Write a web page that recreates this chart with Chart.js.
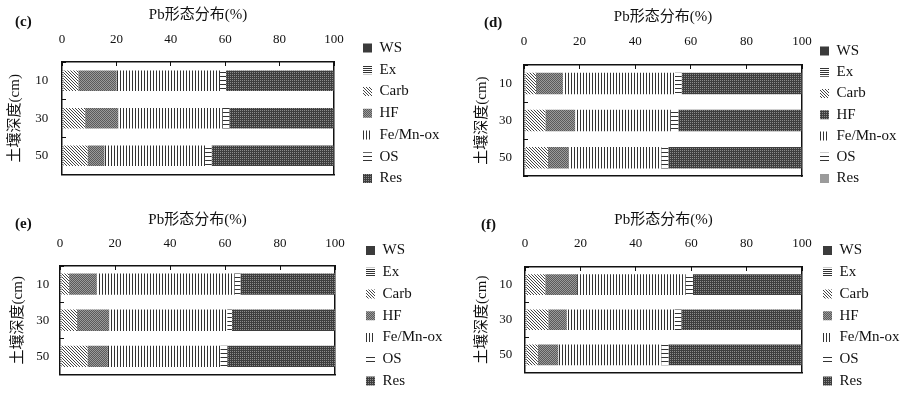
<!DOCTYPE html>
<html>
<head>
<meta charset="utf-8">
<script src="https://cdn.jsdelivr.net/npm/chart.js@4.4.1/dist/chart.umd.min.js"></script>
<style>
  html, body { margin: 0; background: #fff; }
  #wrap { position: relative; width: 908px; height: 394px; overflow: hidden; }
  #wrap canvas { position: absolute; }
</style>
</head>
<body>
<div id="wrap">
  <canvas id="pc" width="454" height="200" style="left:0;top:0"></canvas>
  <canvas id="pd" width="454" height="200" style="left:454px;top:0"></canvas>
  <canvas id="pe" width="454" height="200" style="left:0;top:197px"></canvas>
  <canvas id="pf" width="454" height="200" style="left:454px;top:197px"></canvas>
</div>
<script>
const panels = ['(c)', '(d)', '(e)', '(f)']
const depths = ['10', '30', '50']
const fractions = ['WS', 'Ex', 'Carb', 'HF', 'Fe/Mn-ox', 'OS', 'Res']
const axisTitle = 'Pb形态分布(%)'
const depthTitle = '土壤深度(cm)'

// one row per panel (c, d, e, f), one value per depth 10 / 30 / 50 cm, in %
const ws = [[0.2, 0.2, 0.2], [0.2, 0.2, 0.2], [0.2, 0.2, 0.2], [0.2, 0.2, 0.2]]
const ex = [[0.3, 0.3, 0.3], [0.3, 0.3, 0.3], [0.3, 0.3, 0.3], [0.3, 0.3, 0.3]]
const carb = [[5.5, 8.0, 8.9], [3.8, 7.2, 8.1], [2.8, 5.7, 9.5], [6.8, 7.9, 4.1]]
const hf = [[14.1, 12.2, 6.2], [9.7, 10.7, 7.4], [10.0, 11.7, 7.4], [11.5, 6.7, 7.4]]
const feMn = [[38.0, 38.4, 37.0], [40.3, 34.4, 33.4], [50.2, 42.9, 40.9], [39.2, 38.9, 37.2]]
const os = [[2.2, 2.4, 2.4], [2.4, 2.7, 2.5], [2.1, 1.7, 2.5], [2.6, 2.4, 2.6]]
const res = [[39.7, 38.5, 45.0], [43.3, 44.5, 48.1], [34.4, 37.5, 39.2], [39.4, 43.6, 48.2]]

const ink = '#111'
const serif = "'Liberation Serif', 'Noto Sans CJK SC', serif"
const W = 454
const H = 200
const legFont = 15

// layout of each panel inside its canvas (px); legend values kept to quarter pixels
const frames = [
  { id: 'pc', tagX: 15, tagY: 21.7, titleY: 15, tickY: 40, L: 62, T: 62, R: 334, B: 190, yLabRight: 48.3, yTitleX: 15, legX: 363, legBottom: 192.75, legPad: 6.75, bar: 0.55 },
  { id: 'pd', tagX: 30, tagY: 23.3, titleY: 16.7, tickY: 41.7, L: 70, T: 65, R: 348, B: 188, yLabRight: 58, yTitleX: 28, legX: 366, legBottom: 192.25, legPad: 6.25, bar: 0.58 },
  { id: 'pe', tagX: 15, tagY: 26.7, titleY: 23.3, tickY: 46.7, L: 60, T: 69, R: 335, B: 193, yLabRight: 49.3, yTitleX: 18, legX: 366, legBottom: 198.25, legPad: 6.75, bar: 0.59 },
  { id: 'pf', tagX: 27, tagY: 28.3, titleY: 23.3, tickY: 46.7, L: 71, T: 70, R: 348, B: 193, yLabRight: 58.3, yTitleX: 28, legX: 369, legBottom: 198.25, legPad: 6.75, bar: 0.59 }
]

function tile(ctx, w, h, bg, fg, cells) {
  const c = document.createElement('canvas')
  c.width = w
  c.height = h
  const g = c.getContext('2d')
  g.fillStyle = bg
  g.fillRect(0, 0, w, h)
  g.fillStyle = fg
  cells.forEach(([x, y]) => g.fillRect(x, y, 1, 1))
  return ctx.createPattern(c, 'repeat')
}

function makeFills(ctx) {
  return [
    '#3b3b3b',
    tile(ctx, 2, 2, '#fff', '#333', [[0, 0], [1, 0]]),
    tile(ctx, 3, 3, '#fff', '#444', [[0, 0], [1, 1], [2, 2]]),
    tile(ctx, 2, 2, '#9a9a9a', '#5a5a5a', [[0, 0], [1, 1]]),
    tile(ctx, 3, 1, '#fff', '#333', [[0, 0]]),
    tile(ctx, 1, 4, '#fff', '#333', [[0, 0]]),
    tile(ctx, 2, 2, '#3e3e3e', '#8c8c8c', [[0, 0]])
  ]
}

function makeChart(f, p) {
  const canvas = document.getElementById(f.id)
  const ctx = canvas.getContext('2d')
  const fills = makeFills(ctx)
  const series = [ws, ex, carb, hf, feMn, os, res]

  const legLeft = f.legX - f.legPad
  const legW = W - legLeft

  const fixLegend = {
    id: 'fixLegend',
    beforeUpdate(chart) {
      const lg = chart.legend
      if (!lg || lg._fixed) return
      const fit = lg.fit
      lg.fit = function () {
        fit.call(this)
        this.width = legW
      }
      lg._fixed = true
    }
  }

  return new Chart(canvas, {
    type: 'bar',
    data: {
      labels: depths,
      datasets: fractions.map((name, i) => ({
        label: name,
        data: series[i][p],
        backgroundColor: fills[i],
        borderWidth: 0,
        categoryPercentage: 1,
        barPercentage: f.bar
      }))
    },
    options: {
      indexAxis: 'y',
      responsive: false,
      animation: false,
      events: [],
      layout: {
        padding: { top: 0, left: f.tagX, right: 0, bottom: H - f.legBottom }
      },
      scales: {
        x: {
          type: 'linear',
          position: 'top',
          min: 0,
          max: 100,
          stacked: true,
          ticks: {
            stepSize: 20,
            maxRotation: 0,
            color: ink,
            font: { family: serif, size: 13 },
            padding: f.T + 4 - 7.8 - f.tickY
          },
          grid: { drawOnChartArea: false, tickLength: -4, color: ink, lineWidth: 1 },
          border: { color: ink, width: 1.5 },
          title: {
            display: true,
            text: axisTitle,
            color: ink,
            font: { family: serif, size: 15 },
            padding: { top: f.titleY - 9, bottom: 0 }
          },
          afterFit: (s) => { s.height = f.T }
        },
        x2: {
          type: 'linear',
          position: 'bottom',
          min: 0,
          max: 100,
          ticks: { display: false },
          grid: { display: false, drawTicks: false },
          border: { color: ink, width: 1.5 },
          afterFit: (s) => { s.height = f.legBottom - f.B }
        },
        y: {
          type: 'category',
          position: 'left',
          stacked: true,
          ticks: {
            color: ink,
            font: { family: serif, size: 13 },
            padding: f.L - f.yLabRight + 4
          },
          grid: { offset: true, drawOnChartArea: false, tickLength: -4, color: ink, lineWidth: 1 },
          border: { color: ink, width: 1.5 },
          title: {
            display: true,
            text: depthTitle,
            color: ink,
            font: { family: serif, size: 15 },
            padding: { top: f.yTitleX - f.tagX - 9, bottom: 0 }
          },
          afterFit: (s) => { s.width = f.L - f.tagX }
        },
        y2: {
          type: 'linear',
          position: 'right',
          min: 0,
          max: 1,
          ticks: { display: false },
          grid: { display: false, drawTicks: false },
          border: { color: ink, width: 1.5 },
          afterFit: (s) => { s.width = legLeft - f.R }
        }
      },
      plugins: {
        tooltip: { enabled: false },
        title: {
          display: true,
          text: panels[p],
          align: 'start',
          color: ink,
          font: { family: serif, size: 15 },
          padding: { top: f.tagY - 9, bottom: -(f.tagY + 9) }
        },
        legend: {
          position: 'right',
          align: 'end',
          labels: {
            boxWidth: 9,
            boxHeight: 9,
            padding: f.legPad,
            color: ink,
            font: { family: serif, size: legFont },
            generateLabels(chart) {
              const items = Chart.defaults.plugins.legend.labels.generateLabels(chart)
              // panel (d) has its HF / Res keys drawn differently in the source figure
              if (p === 1) {
                items[3].fillStyle = fills[6]
                items[6].fillStyle = '#9b9b9b'
              }
              return items
            }
          }
        }
      }
    },
    plugins: [fixLegend]
  })
}

frames.forEach((f, p) => {
  try {
    makeChart(f, p)
  } catch (err) {
    console.error('panel ' + panels[p] + ':', err)
  }
})
</script>
</body>
</html>
